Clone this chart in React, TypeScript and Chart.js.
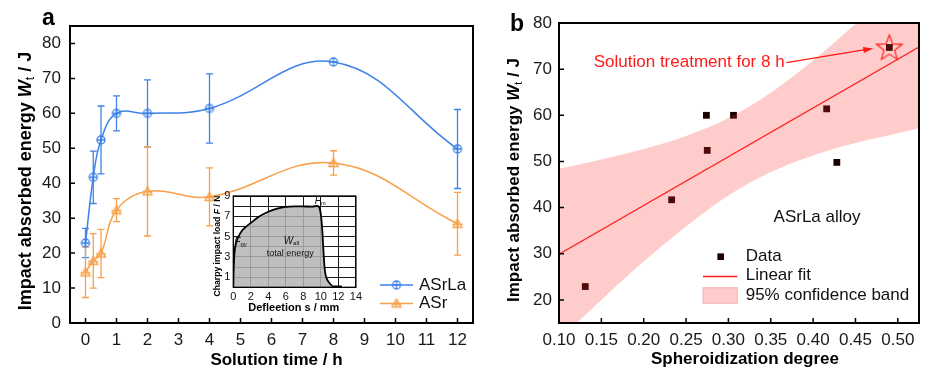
import React, { useEffect, useRef } from 'react';
import { Chart, registerables } from 'chart.js';

Chart.register(...registerables);

const FONT = '"Liberation Sans", Arial, Helvetica, sans-serif';

// ---------- Panel a ----------
const solutionTimes = [0, 0.25, 0.5, 1, 2, 4, 8, 12];
const asrlaEnergy = [22.9, 41.7, 52.4, 60.0, 60.0, 61.4, 74.7, 49.8];
const asrlaError = [4.2, 7.5, 9.7, 5.0, 9.6, 9.9, 0, 11.3];
const asrEnergy = [14.5, 17.8, 19.9, 32.3, 37.7, 36.1, 45.8, 28.4];
const asrError = [7.2, 7.8, 6.9, 3.3, 12.8, 8.3, 3.5, 9.0];
const timeTicks = [0, 1, 2, 3, 4, 5, 6, 7, 8, 9, 10, 11, 12];
const energyTicksA = [0, 10, 20, 30, 40, 50, 60, 70, 80];
const seriesNamesA = ['ASrLa', 'ASr'];

// ---------- Inset ----------
const deflection = [0, 0.05, 0.15, 0.3, 0.6, 1.0, 1.5, 2, 3, 4, 5, 6, 7, 8, 9, 9.6, 9.8, 10.0, 10.15, 10.3, 10.4, 10.5, 10.7, 11.0, 11.4, 12.4];
const impactLoad = [0, 2.0, 3.5, 4.3, 5.0, 5.6, 6.0, 6.35, 7.0, 7.45, 7.75, 7.93, 7.98, 7.97, 7.96, 8.02, 7.9, 7.2, 5.8, 3.5, 2.2, 1.4, 0.8, 0.4, 0.1, 0.1];
const deflectionTicks = [0, 2, 4, 6, 8, 10, 12, 14];
const loadGrid = [0, 1, 2, 3, 4, 5, 6, 7, 8, 9];
const loadTickLabels = [1, 3, 5, 7, 9];

// ---------- Panel b ----------
const spheroidization = [0.131, 0.233, 0.274, 0.275, 0.306, 0.416, 0.428, 0.49];
const energyB = [22.9, 41.7, 60.0, 52.4, 60.0, 61.4, 49.8, 74.7];
const fitX = [0.1, 0.525];
const fitY = [29.9, 74.8];
const bandX = [0.1, 0.15, 0.2, 0.25, 0.3, 0.35, 0.4, 0.45, 0.5, 0.525];
const bandLower = [11.4, 20.0, 28.3, 35.9, 42.6, 47.7, 51.3, 54.0, 56.1, 57.2];
const bandUpper = [48.4, 50.4, 52.7, 55.5, 59.4, 64.9, 71.9, 79.8, 88.1, 92.4];
const highlightX = [0.49];
const highlightY = [74.7];
const spherTicks = [0.1, 0.15, 0.2, 0.25, 0.3, 0.35, 0.4, 0.45, 0.5];
const energyTicksB = [20, 30, 40, 50, 60, 70, 80];
const legendNamesB = ['Data', 'Linear fit', '95% confidence band'];

const BLUE = '#3f83e6';
const ORANGE = '#f7a04a';
const PINK = 'rgba(255,40,40,0.24)';

type Part = { text: string; font: string; dy?: number };

function drawRich(ctx: CanvasRenderingContext2D, parts: Part[], x: number, y: number, align: 'left' | 'center', rot: boolean, color: string) {
  ctx.save();
  ctx.translate(x, y);
  if (rot) ctx.rotate(-Math.PI / 2);
  ctx.fillStyle = color;
  ctx.textBaseline = 'middle';
  ctx.textAlign = 'left';
  let w = 0;
  for (const p of parts) {
    ctx.font = p.font;
    w += ctx.measureText(p.text).width;
  }
  let cx = align === 'center' ? -w / 2 : 0;
  for (const p of parts) {
    ctx.font = p.font;
    ctx.fillText(p.text, cx, p.dy || 0);
    cx += ctx.measureText(p.text).width;
  }
  ctx.restore();
}

function drawFrame(chart: any, xTicks: number[], yTicks: number[], tickLen: number, lw: number) {
  const { ctx, chartArea: a, scales } = chart;
  const x = scales.x;
  const y = scales.y;
  ctx.save();
  ctx.strokeStyle = '#000';
  ctx.lineWidth = 1.5;
  ctx.beginPath();
  for (const v of xTicks) {
    const px = x.getPixelForValue(v);
    ctx.moveTo(px, a.bottom);
    ctx.lineTo(px, a.bottom - tickLen);
  }
  for (const v of yTicks) {
    const py = y.getPixelForValue(v);
    ctx.moveTo(a.left, py);
    ctx.lineTo(a.left + tickLen, py);
  }
  ctx.stroke();
  ctx.lineWidth = lw;
  ctx.strokeRect(a.left, a.top, a.right - a.left, a.bottom - a.top);
  ctx.restore();
}

function makeCircleMarker(color: string) {
  const c = document.createElement('canvas');
  c.width = 12;
  c.height = 12;
  const g = c.getContext('2d')!;
  g.strokeStyle = color;
  g.lineWidth = 1.3;
  g.beginPath();
  g.arc(6, 6, 4, 0, Math.PI * 2);
  g.stroke();
  g.beginPath();
  g.moveTo(2, 6);
  g.lineTo(10, 6);
  g.moveTo(6, 2);
  g.lineTo(6, 10);
  g.stroke();
  return c;
}

function makeTriangleMarker(color: string) {
  const c = document.createElement('canvas');
  c.width = 12;
  c.height = 12;
  const g = c.getContext('2d')!;
  g.strokeStyle = color;
  g.lineWidth = 1.3;
  g.beginPath();
  g.moveTo(6, 1.5);
  g.lineTo(10.5, 9.5);
  g.lineTo(1.5, 9.5);
  g.closePath();
  g.stroke();
  g.beginPath();
  g.moveTo(1, 6.5);
  g.lineTo(11, 6.5);
  g.moveTo(6, 2);
  g.lineTo(6, 10);
  g.stroke();
  return c;
}

function makeStarMarker(color: string) {
  const c = document.createElement('canvas');
  c.width = 32;
  c.height = 32;
  const g = c.getContext('2d')!;
  g.strokeStyle = color;
  g.lineWidth = 1.2;
  g.beginPath();
  const R = 13.5;
  const r = 5.6;
  for (let i = 0; i < 10; i++) {
    const ang = -Math.PI / 2 + (i * Math.PI) / 5;
    const rad = i % 2 === 0 ? R : r;
    const px = 16 + rad * Math.cos(ang);
    const py = 17 + rad * Math.sin(ang);
    if (i === 0) g.moveTo(px, py);
    else g.lineTo(px, py);
  }
  g.closePath();
  g.stroke();
  return c;
}

const tickFont = (size: number) => ({ family: FONT, size });

export default function App() {
  const leftRef = useRef<HTMLCanvasElement>(null);
  const rightRef = useRef<HTMLCanvasElement>(null);
  const insetRef = useRef<HTMLCanvasElement>(null);

  useEffect(() => {
    const circleM = makeCircleMarker(BLUE);
    const triM = makeTriangleMarker(ORANGE);
    const starM = makeStarMarker('#ff1a1a');

    // ---------------- Left chart ----------------
    const errSets = [asrlaError, asrError];
    const colorsA = [BLUE, ORANGE];
    const markersA = [circleM, triM];

    const leftPlugin = {
      id: 'leftDeco',
      beforeDatasetsDraw(chart: any) {
        const { ctx } = chart;
        const y = chart.scales.y;
        ctx.save();
        for (let d = 0; d < 2; d++) {
          const meta = chart.getDatasetMeta(d);
          const vals = d === 0 ? asrlaEnergy : asrEnergy;
          ctx.strokeStyle = colorsA[d];
          ctx.lineWidth = 1.3;
          ctx.beginPath();
          meta.data.forEach((pt: any, j: number) => {
            const e = errSets[d][j];
            if (!e) return;
            const top = y.getPixelForValue(vals[j] + e);
            const bot = y.getPixelForValue(vals[j] - e);
            ctx.moveTo(pt.x, top);
            ctx.lineTo(pt.x, bot);
            ctx.moveTo(pt.x - 3.5, top);
            ctx.lineTo(pt.x + 3.5, top);
            ctx.moveTo(pt.x - 3.5, bot);
            ctx.lineTo(pt.x + 3.5, bot);
          });
          ctx.stroke();
        }
        ctx.restore();
      },
      afterDraw(chart: any) {
        const { ctx, chartArea: a } = chart;
        drawFrame(chart, timeTicks, energyTicksA, 5, 2);
        // y title
        drawRich(
          ctx,
          [
            { text: 'Impact absorbed energy ', font: `bold 18px ${FONT}` },
            { text: 'W', font: `italic bold 18px ${FONT}` },
            { text: 't', font: `12px ${FONT}`, dy: 5 },
            { text: ' / J', font: `bold 18px ${FONT}` },
          ],
          26,
          181,
          'center',
          true,
          '#000'
        );
        drawRich(ctx, [{ text: 'Solution time / h', font: `bold 17px ${FONT}` }], (a.left + a.right) / 2 + 5, 360, 'center', false, '#000');
        // panel label
        ctx.save();
        ctx.font = `bold 23px ${FONT}`;
        ctx.fillStyle = '#000';
        ctx.textBaseline = 'alphabetic';
        ctx.fillText('a', 42, 25);
        ctx.restore();
        // legend
        const ly = [285, 303.5];
        for (let i = 0; i < 2; i++) {
          ctx.save();
          ctx.strokeStyle = colorsA[i];
          ctx.lineWidth = 1.5;
          ctx.beginPath();
          ctx.moveTo(380, ly[i]);
          ctx.lineTo(413, ly[i]);
          ctx.stroke();
          const m = markersA[i];
          ctx.drawImage(m, 396.5 - m.width / 2, ly[i] - m.height / 2);
          ctx.restore();
          drawRich(ctx, [{ text: seriesNamesA[i], font: `17px ${FONT}` }], 419, ly[i], 'left', false, '#111');
        }
      },
    };

    const left = new Chart(leftRef.current!, {
      type: 'line',
      data: {
        datasets: [
          {
            label: seriesNamesA[0],
            data: solutionTimes.map((x, i) => ({ x, y: asrlaEnergy[i] })),
            borderColor: BLUE,
            borderWidth: 1.5,
            tension: 0.4,
            pointStyle: circleM as any,
            pointRadius: 5,
            fill: false,
          },
          {
            label: seriesNamesA[1],
            data: solutionTimes.map((x, i) => ({ x, y: asrEnergy[i] })),
            borderColor: ORANGE,
            borderWidth: 1.5,
            tension: 0.4,
            pointStyle: triM as any,
            pointRadius: 5,
            fill: false,
          },
        ],
      },
      options: {
        animation: false,
        responsive: false,
        devicePixelRatio: 1,
        events: [],
        layout: { padding: { left: 0, top: 26, right: 7, bottom: 0 } },
        plugins: { legend: { display: false }, tooltip: { enabled: false } },
        scales: {
          x: {
            type: 'linear',
            min: -0.5,
            max: 12.5,
            afterBuildTicks: (s: any) => {
              s.ticks = timeTicks.map((v) => ({ value: v }));
            },
            afterFit: (s: any) => {
              s.height = 48;
            },
            grid: { display: false, drawTicks: false },
            border: { display: false },
            ticks: { font: tickFont(17), color: '#1a1a1a', padding: 7, maxRotation: 0, autoSkip: false },
          },
          y: {
            type: 'linear',
            min: 0,
            max: 85,
            afterBuildTicks: (s: any) => {
              s.ticks = energyTicksA.map((v) => ({ value: v }));
            },
            afterFit: (s: any) => {
              s.width = 70;
            },
            grid: { display: false, drawTicks: false },
            border: { display: false },
            ticks: { font: tickFont(17), color: '#1a1a1a', padding: 9, autoSkip: false },
          },
        },
      },
      plugins: [leftPlugin],
    } as any);

    // ---------------- Inset ----------------
    const insetPlugin = {
      id: 'insetDeco',
      beforeDraw(chart: any) {
        const { ctx, chartArea: a } = chart;
        ctx.save();
        ctx.fillStyle = '#fff';
        ctx.fillRect(a.left, a.top, a.right - a.left, a.bottom - a.top);
        ctx.restore();
      },
      afterDraw(chart: any) {
        const { ctx, chartArea: a, scales } = chart;
        ctx.save();
        ctx.strokeStyle = '#000';
        ctx.lineWidth = 1.3;
        ctx.strokeRect(a.left, a.top, a.right - a.left, a.bottom - a.top);
        ctx.restore();
        const X = (v: number) => scales.x.getPixelForValue(v);
        const Y = (v: number) => scales.y.getPixelForValue(v);
        drawRich(ctx, [{ text: 'Defleetion s / mm', font: `bold 11px ${FONT}` }], 93.8, 123.3, 'center', false, '#000');
        drawRich(
          ctx,
          [
            { text: 'Charpy impact load ', font: `bold 8.6px ${FONT}` },
            { text: 'F', font: `italic bold 8.6px ${FONT}` },
            { text: ' / N', font: `bold 8.6px ${FONT}` },
          ],
          18,
          61,
          'center',
          true,
          '#000'
        );
        drawRich(
          ctx,
          [
            { text: 'F', font: `italic 10px ${FONT}` },
            { text: 'm', font: `6px ${FONT}`, dy: 2.5 },
          ],
          X(9.3),
          Y(8.5),
          'left',
          false,
          '#111'
        );
        drawRich(
          ctx,
          [
            { text: 'F', font: `italic 10px ${FONT}` },
            { text: 'gy', font: `6px ${FONT}`, dy: 2.5 },
          ],
          X(0.12),
          Y(4.45),
          'left',
          false,
          '#111'
        );
        drawRich(
          ctx,
          [
            { text: 'W', font: `italic 10px ${FONT}` },
            { text: 'all', font: `6px ${FONT}`, dy: 2.5 },
          ],
          X(5.75),
          Y(4.55),
          'left',
          false,
          '#111'
        );
        drawRich(ctx, [{ text: 'total energy', font: `9px ${FONT}` }], X(6.5), Y(3.35), 'center', false, '#111');
      },
    };

    const inset = new Chart(insetRef.current!, {
      type: 'line',
      data: {
        datasets: [
          {
            data: deflection.map((x, i) => ({ x, y: impactLoad[i] })),
            borderColor: '#000',
            borderWidth: 1.8,
            backgroundColor: 'rgba(180,180,180,0.85)',
            fill: 'origin',
            pointRadius: 0,
            cubicInterpolationMode: 'monotone',
          },
        ],
      },
      options: {
        animation: false,
        responsive: false,
        devicePixelRatio: 1,
        events: [],
        layout: { padding: { left: 0, top: 11, right: 7.7, bottom: 0 } },
        plugins: { legend: { display: false }, tooltip: { enabled: false } },
        scales: {
          x: {
            type: 'linear',
            min: 0,
            max: 14,
            afterBuildTicks: (s: any) => {
              s.ticks = deflectionTicks.map((v) => ({ value: v }));
            },
            afterFit: (s: any) => {
              s.height = 27.7;
            },
            grid: { color: '#000', lineWidth: 0.9, drawTicks: false },
            border: { display: false },
            ticks: { font: tickFont(11), color: '#111', padding: 3, maxRotation: 0, autoSkip: false },
          },
          y: {
            type: 'linear',
            min: 0,
            max: 9,
            afterBuildTicks: (s: any) => {
              s.ticks = loadGrid.map((v) => ({ value: v }));
            },
            afterFit: (s: any) => {
              s.width = 33.3;
            },
            grid: { color: '#000', lineWidth: 0.9, drawTicks: false },
            border: { display: false },
            ticks: {
              font: tickFont(11),
              color: '#111',
              padding: 3,
              autoSkip: false,
              callback: (v: any) => (loadTickLabels.includes(Number(v)) ? String(v) : ''),
            },
          },
        },
      },
      plugins: [insetPlugin],
    } as any);

    // ---------------- Right chart ----------------
    const rightPlugin = {
      id: 'rightDeco',
      afterDraw(chart: any) {
        const { ctx, scales } = chart;
        const X = (v: number) => scales.x.getPixelForValue(v);
        const Y = (v: number) => scales.y.getPixelForValue(v);
        drawFrame(chart, spherTicks, energyTicksB, 5, 2);
        drawRich(
          ctx,
          [
            { text: 'Impact absorbed energy ', font: `bold 17px ${FONT}` },
            { text: 'W', font: `italic bold 17px ${FONT}` },
            { text: 't', font: `11px ${FONT}`, dy: 5 },
            { text: ' / J', font: `bold 17px ${FONT}` },
          ],
          34,
          180,
          'center',
          true,
          '#000'
        );
        drawRich(ctx, [{ text: 'Spheroidization degree', font: `bold 17px ${FONT}` }], 265, 359, 'center', false, '#000');
        ctx.save();
        ctx.font = `bold 23px ${FONT}`;
        ctx.fillStyle = '#000';
        ctx.fillText('b', 30, 31);
        ctx.restore();

        // annotation
        drawRich(ctx, [{ text: 'Solution treatment for 8 h', font: `17px ${FONT}` }], X(0.141), Y(71.4), 'left', false, '#ff1a1a');
        const sx = X(0.3685);
        const sy = Y(71.4);
        const ex = X(0.471);
        const ey = Y(74.5);
        const ang = Math.atan2(ey - sy, ex - sx);
        ctx.save();
        ctx.strokeStyle = '#ff1a1a';
        ctx.fillStyle = '#ff1a1a';
        ctx.lineWidth = 1.2;
        ctx.beginPath();
        ctx.moveTo(sx, sy);
        ctx.lineTo(ex - 8 * Math.cos(ang), ey - 8 * Math.sin(ang));
        ctx.stroke();
        ctx.beginPath();
        ctx.moveTo(ex, ey);
        ctx.lineTo(ex - 10 * Math.cos(ang) + 3 * Math.sin(ang), ey - 10 * Math.sin(ang) - 3 * Math.cos(ang));
        ctx.lineTo(ex - 10 * Math.cos(ang) - 3 * Math.sin(ang), ey - 10 * Math.sin(ang) + 3 * Math.cos(ang));
        ctx.closePath();
        ctx.fill();
        ctx.restore();

        drawRich(ctx, [{ text: 'ASrLa alloy', font: `17px ${FONT}` }], X(0.3533), Y(37.9), 'left', false, '#111');

        // legend
        const lx0 = 223;
        const lx1 = 257.3;
        const tx = 265.7;
        const ys = [256.7, 275.5, 295.5];
        ctx.save();
        ctx.fillStyle = '#1a0000';
        ctx.fillRect(240.7 - 3.3, ys[0] - 3.3, 6.6, 6.6);
        ctx.strokeStyle = '#ff1a1a';
        ctx.lineWidth = 1.3;
        ctx.beginPath();
        ctx.moveTo(lx0, ys[1] + 1);
        ctx.lineTo(lx1, ys[1] + 1);
        ctx.stroke();
        ctx.fillStyle = PINK;
        ctx.fillRect(lx0, 287.7, lx1 - lx0, 15.6);
        ctx.strokeStyle = 'rgba(240,140,140,0.6)';
        ctx.lineWidth = 1;
        ctx.strokeRect(lx0, 287.7, lx1 - lx0, 15.6);
        ctx.restore();
        for (let i = 0; i < 3; i++) {
          drawRich(ctx, [{ text: legendNamesB[i], font: `17px ${FONT}` }], tx, ys[i], 'left', false, '#111');
        }
      },
    };

    const right = new Chart(rightRef.current!, {
      type: 'line',
      data: {
        datasets: [
          {
            data: bandX.map((x, i) => ({ x, y: bandLower[i] })),
            borderWidth: 0,
            pointRadius: 0,
            fill: false,
            cubicInterpolationMode: 'monotone',
          },
          {
            data: bandX.map((x, i) => ({ x, y: bandUpper[i] })),
            borderWidth: 0,
            pointRadius: 0,
            backgroundColor: PINK,
            fill: '-1',
            cubicInterpolationMode: 'monotone',
          },
          {
            data: fitX.map((x, i) => ({ x, y: fitY[i] })),
            borderColor: '#ff1a1a',
            borderWidth: 1.3,
            pointRadius: 0,
            fill: false,
          },
          {
            data: spheroidization.map((x, i) => ({ x, y: energyB[i] })),
            showLine: false,
            pointStyle: 'rect',
            pointRadius: 4.8,
            pointBackgroundColor: '#1a0000',
            pointBorderWidth: 0,
            fill: false,
          },
          {
            data: highlightX.map((x, i) => ({ x, y: highlightY[i] })),
            showLine: false,
            pointStyle: starM as any,
            pointRadius: 14,
            fill: false,
          },
        ],
      },
      options: {
        animation: false,
        responsive: false,
        devicePixelRatio: 1,
        events: [],
        layout: { padding: { left: 0, top: 23, right: 1.5, bottom: 0 } },
        plugins: { legend: { display: false }, tooltip: { enabled: false } },
        scales: {
          x: {
            type: 'linear',
            min: 0.1,
            max: 0.525,
            afterBuildTicks: (s: any) => {
              s.ticks = spherTicks.map((v) => ({ value: v }));
            },
            afterFit: (s: any) => {
              s.height = 48;
            },
            grid: { display: false, drawTicks: false },
            border: { display: false },
            ticks: {
              font: tickFont(17),
              color: '#1a1a1a',
              padding: 7,
              maxRotation: 0,
              autoSkip: false,
              callback: (v: any) => Number(v).toFixed(2),
            },
          },
          y: {
            type: 'linear',
            min: 15,
            max: 80,
            afterBuildTicks: (s: any) => {
              s.ticks = energyTicksB.map((v) => ({ value: v }));
            },
            afterFit: (s: any) => {
              s.width = 79;
            },
            grid: { display: false, drawTicks: false },
            border: { display: false },
            ticks: { font: tickFont(17), color: '#1a1a1a', padding: 7, autoSkip: false },
          },
        },
      },
      plugins: [rightPlugin],
    } as any);

    return () => {
      left.destroy();
      inset.destroy();
      right.destroy();
    };
  }, []);

  return (
    <div style={{ position: 'fixed', left: 0, top: 0, width: 934, height: 371, background: '#fff', overflow: 'hidden' }}>
      <canvas ref={leftRef} width={480} height={371} style={{ position: 'absolute', left: 0, top: 0, width: 480, height: 371 }} />
      <canvas ref={rightRef} width={454} height={371} style={{ position: 'absolute', left: 480, top: 0, width: 454, height: 371 }} />
      <canvas ref={insetRef} width={165} height={130} style={{ position: 'absolute', left: 200, top: 185, width: 165, height: 130 }} />
    </div>
  );
}
